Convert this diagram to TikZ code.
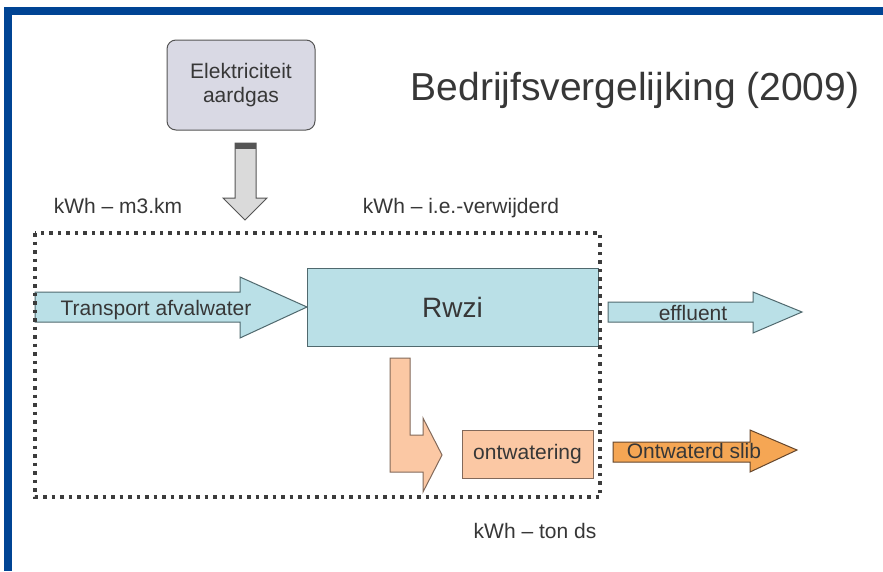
\documentclass[tikz,border=0pt]{standalone}
\usepackage{fontspec}
\setmainfont{Liberation Sans}
\definecolor{bframe}{RGB}{0,68,148}
\definecolor{txtgrey}{RGB}{55,55,55}
\definecolor{cyanfill}{RGB}{186,224,231}
\definecolor{cyanline}{RGB}{80,105,110}
\definecolor{peachfill}{RGB}{251,200,164}
\definecolor{peachline}{RGB}{130,105,90}
\definecolor{slibfill}{RGB}{245,166,84}
\definecolor{slibline}{RGB}{100,70,45}
\definecolor{elekfill}{RGB}{217,217,228}
\definecolor{elekline}{RGB}{85,85,85}
\definecolor{greyarrow}{RGB}{218,218,218}
\definecolor{dotcol}{RGB}{60,60,60}
\begin{document}
\begin{tikzpicture}[x=1pt,y=-1pt,
  lbl/.style={text=txtgrey,font=\fontsize{21}{24}\selectfont,inner sep=0pt},
  boxtext/.style={text=txtgrey,font=\fontsize{21}{24}\selectfont,inner sep=0pt,align=center},
  frame/.style={draw=dotcol,line width=3.5pt,dash pattern=on 3.5pt off 5pt},
  cyanarrow/.style={fill=cyanfill,draw=cyanline,line width=1pt},
  peacharrow/.style={fill=peachfill,draw=peachline,line width=1pt},
  slibarrow/.style={fill=slibfill,draw=slibline,line width=1pt},
  greydown/.style={fill=greyarrow,draw=elekline,line width=1pt}]
\useasboundingbox (0,0) rectangle (883,571);
\fill[white] (0,0) rectangle (883,571);
\fill[bframe] (4,7) rectangle (883,15);
\fill[bframe] (4,7) rectangle (12,571);

% title
\node[text=txtgrey,font=\fontsize{39}{44}\selectfont,inner sep=0pt,anchor=base] (title) at (635,100) {Bedrijfsvergelijking (2009)};

% energy source
\node[fill=elekfill,draw=elekline,line width=1pt,rounded corners=9pt,minimum width=148pt,minimum height=90pt,boxtext,font=\fontsize{21}{24}\selectfont] (elek) at (241,85) {Elektriciteit\\aardgas};
\coordinate (downtip) at (245,220);
\draw[greydown] (235,143) -- (256,143) -- (256,198) -- (267,198) -- (downtip) -- (223,198) -- (235,198) -- cycle;
\fill[elekline] (235,143) rectangle (256,149);

% labels
\node[lbl,anchor=base] (l1) at (118,213) {kWh – m3.km};
\node[lbl,anchor=base] (l2) at (461,213) {kWh – i.e.-verwijderd};
\node[lbl,anchor=base] (l3) at (535,538) {kWh – ton ds};

% transport arrow
\draw[cyanarrow] (35,292) -- (240,292) -- (240,277) -- (307,307) -- (240,338) -- (240,322) -- (35,322) -- cycle;
\node[lbl,anchor=base] (tr) at (156,315) {Transport afvalwater};

% rwzi
\node[fill=cyanfill,draw=cyanline,line width=1pt,minimum width=291pt,minimum height=78pt,text=txtgrey,font=\fontsize{28}{32}\selectfont] (rwzi) at (452.5,307) {Rwzi};

% effluent
\draw[cyanarrow] (608,302) -- (753,302) -- (753,292) -- (802,312) -- (753,333) -- (753,322) -- (608,322) -- cycle;
\node[lbl,anchor=base] (eff) at (693,320) {effluent};

% bent arrow
\draw[peacharrow] (390,358) -- (410,358) -- (410,435) -- (423,435) -- (423,418) -- (442,455) -- (423,492) -- (423,472) -- (390,472) -- cycle;

% ontwatering
\node[fill=peachfill,draw=peachline,line width=1pt,minimum width=131pt,minimum height=48pt,boxtext] (ontw) at (527.5,454) {ontwatering};

% slib arrow
\draw[slibarrow] (613,442) -- (750,442) -- (750,430) -- (797,450) -- (750,472) -- (750,462) -- (613,462) -- cycle;
\node[lbl,anchor=base] (slib) at (694,458) {Ontwaterd slib};

% dotted system boundary
\draw[frame] (35,233) rectangle (600,497);
\end{tikzpicture}
\end{document}
